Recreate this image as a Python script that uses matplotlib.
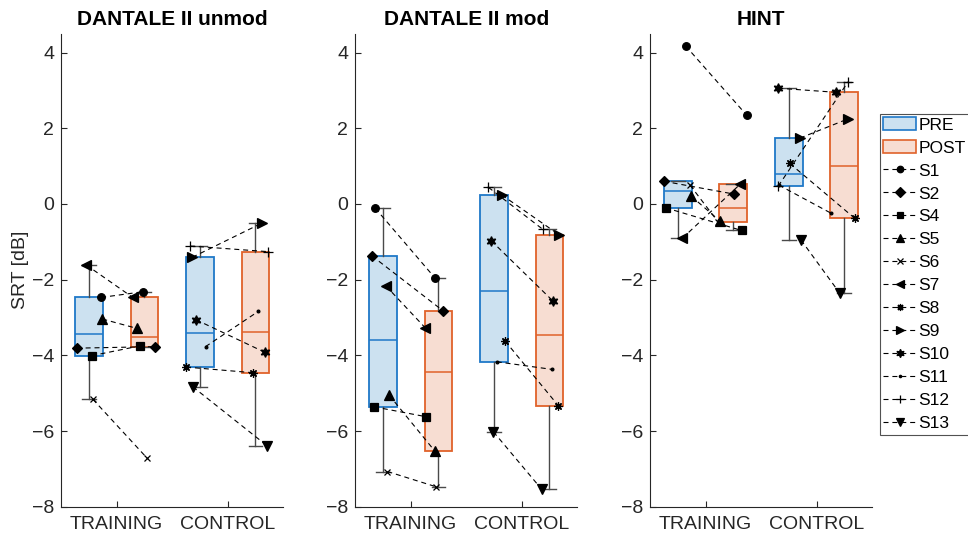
import numpy as np
import matplotlib
matplotlib.use("Agg")
import matplotlib.pyplot as plt
from matplotlib.patches import Patch
from matplotlib.lines import Line2D

plt.rcParams['font.family'] = ['Liberation Sans', 'DejaVu Sans']

# ---- data: speech reception thresholds (dB) ----
tests = ['DANTALE II unmod', 'DANTALE II mod', 'HINT']
groups = ['TRAINING', 'CONTROL']
subjects_training = ['S1', 'S2', 'S4', 'S5', 'S6', 'S7']
subjects_control = ['S8', 'S9', 'S10', 'S11', 'S12', 'S13']

unmod_training_pre = [-2.47, -3.81, -4.01, -3.04, -5.16, -1.61]
unmod_training_post = [-2.32, -3.77, -3.75, -3.29, -6.72, -2.47]
unmod_control_pre = [-4.31, -1.41, -3.06, -3.77, -1.11, -4.83]
unmod_control_post = [-4.46, -0.51, -3.92, -2.84, -1.26, -6.39]

mod_training_pre = [-0.11, -1.37, -5.36, -5.05, -7.07, -2.16]
mod_training_post = [-1.96, -2.82, -5.62, -6.54, -7.47, -3.27]
mod_control_pre = [-3.62, 0.24, -0.97, -4.17, 0.44, -6.02]
mod_control_post = [-5.33, -0.82, -2.56, -4.37, -0.67, -7.54]

hint_training_pre = [4.18, 0.60, -0.10, 0.21, 0.50, -0.91]
hint_training_post = [2.35, 0.26, -0.70, -0.45, -0.48, 0.53]
hint_control_pre = [1.07, 1.74, 3.06, 0.50, 0.47, -0.95]
hint_control_post = [-0.38, 2.25, 2.95, -0.25, 3.23, -2.36]

# horizontal scatter of the individual points around each box
unmod_training_jitter_pre = [0.22, -0.22, 0.05, 0.24, 0.07, -0.05]
unmod_training_jitter_post = [-0.03, 0.19, -0.08, -0.13, 0.05, -0.21]
unmod_control_jitter_pre = [-0.25, -0.14, -0.07, 0.10, -0.18, -0.13]
unmod_control_jitter_post = [-0.04, 0.11, 0.17, 0.05, 0.23, 0.21]

mod_training_jitter_pre = [-0.14, -0.20, -0.16, 0.11, 0.08, 0.05]
mod_training_jitter_post = [-0.06, 0.08, -0.23, -0.06, -0.05, -0.24]
mod_control_jitter_pre = [0.20, 0.14, -0.05, 0.05, -0.10, -0.01]
mod_control_jitter_post = [0.16, 0.18, 0.06, 0.04, -0.12, -0.14]

hint_training_jitter_pre = [0.14, -0.25, -0.22, 0.24, 0.22, 0.08]
hint_training_jitter_post = [0.24, 0.02, 0.15, -0.24, -0.27, 0.13]
hint_control_jitter_pre = [0.02, 0.20, -0.19, -0.18, -0.19, 0.22]
hint_control_jitter_post = [0.19, 0.07, -0.14, -0.23, 0.07, -0.08]

panels = [
    dict(tr=(unmod_training_pre, unmod_training_post), co=(unmod_control_pre, unmod_control_post),
         jtr=(unmod_training_jitter_pre, unmod_training_jitter_post),
         jco=(unmod_control_jitter_pre, unmod_control_jitter_post)),
    dict(tr=(mod_training_pre, mod_training_post), co=(mod_control_pre, mod_control_post),
         jtr=(mod_training_jitter_pre, mod_training_jitter_post),
         jco=(mod_control_jitter_pre, mod_control_jitter_post)),
    dict(tr=(hint_training_pre, hint_training_post), co=(hint_control_pre, hint_control_post),
         jtr=(hint_training_jitter_pre, hint_training_jitter_post),
         jco=(hint_control_jitter_pre, hint_control_jitter_post)),
]

# ---- styles ----
markers = {
    'S1': 'o', 'S2': 'D', 'S4': 's', 'S5': '^', 'S6': 'x', 'S7': '<',
    'S8': (8, 2, 0), 'S9': '>', 'S10': (6, 1, 0), 'S11': '.', 'S12': '+', 'S13': 'v',
}
msizes = {'S1': 5.5, 'S2': 5.5, 'S4': 5.5, 'S5': 6.5, 'S6': 5, 'S7': 6.5,
          'S8': 6, 'S9': 6.5, 'S10': 7, 'S11': 4, 'S12': 7, 'S13': 6.5}

pre_face, pre_edge = '#cce1f0', '#1f78c8'
post_face, post_edge = '#f7ddd2', '#e0622a'
whisker_col = '#4a4a4a'
axis_col = '#262626'
dash = (0, (4.5, 3.5))


def box_stats(values):
    v = np.asarray(values, dtype=float)
    q1, med, q3 = np.percentile(v, [25, 50, 75], method='hazen')
    iqr = q3 - q1
    lo = v[v >= q1 - 1.5 * iqr].min()
    hi = v[v <= q3 + 1.5 * iqr].max()
    return dict(med=med, q1=q1, q3=q3, whislo=lo, whishi=hi, fliers=[])


fig = plt.figure(figsize=(9.68, 5.39), dpi=100)
W, H = 968.0, 539.0
lefts = [61.2, 355.2, 650.0]
ax_w, ax_top, ax_bot = 222.0, 33.7, 506.7

for k, (name, p) in enumerate(zip(tests, panels)):
    ax = fig.add_axes([lefts[k] / W, (H - ax_bot) / H, ax_w / W, (ax_bot - ax_top) / H])

    pos = {'tr': (1, 2), 'co': (3, 4)}
    for g in ('tr', 'co'):
        pre, post = p[g]
        for vals, x, fc, ec in ((pre, pos[g][0], pre_face, pre_edge),
                                (post, pos[g][1], post_face, post_edge)):
            ax.bxp([box_stats(vals)], positions=[x], widths=0.5, capwidths=0.25,
                   patch_artist=True, showfliers=False, manage_ticks=False,
                   boxprops=dict(facecolor=fc, edgecolor=ec, linewidth=1.3),
                   medianprops=dict(color=ec, linewidth=1.1),
                   whiskerprops=dict(color=whisker_col, linewidth=1.0),
                   capprops=dict(color=whisker_col, linewidth=1.0))

    for g, subs, jit in (('tr', subjects_training, p['jtr']), ('co', subjects_control, p['jco'])):
        pre, post = p[g]
        jpre, jpost = jit
        for i, s in enumerate(subs):
            xs = [pos[g][0] + jpre[i], pos[g][1] + jpost[i]]
            ys = [pre[i], post[i]]
            ax.plot(xs, ys, color='black', linestyle=dash, linewidth=0.8,
                    marker=markers[s], markersize=msizes[s], markerfacecolor='black',
                    markeredgecolor='black', markeredgewidth=0.9, zorder=5)

    ax.set_xlim(0.5, 4.5)
    ax.set_ylim(-8, 4.5)
    ax.set_yticks(np.arange(-8, 5, 2))
    ax.set_xticks([1.5, 3.5])
    ax.set_xticklabels(groups)
    ax.spines['top'].set_visible(False)
    ax.spines['right'].set_visible(False)
    for sp in ('left', 'bottom'):
        ax.spines[sp].set_color(axis_col)
        ax.spines[sp].set_linewidth(0.8)
    ax.tick_params(direction='in', length=4, width=0.8, color=axis_col,
                   labelcolor=axis_col, labelsize=14)
    ax.tick_params(axis='y', pad=5)
    ax.tick_params(axis='x', pad=7)
    ax.set_title(name, fontsize=15, fontweight='bold', pad=6)
    if k == 0:
        ax.set_ylabel('SRT [dB]', fontsize=14, color=axis_col, labelpad=2)

handles = [Patch(facecolor=pre_face, edgecolor=pre_edge, linewidth=1.2, label='PRE'),
           Patch(facecolor=post_face, edgecolor=post_edge, linewidth=1.2, label='POST')]
for s in subjects_training + subjects_control:
    handles.append(Line2D([], [], color='black', linestyle=dash, linewidth=0.8,
                          marker=markers[s], markersize=msizes[s] * 0.85,
                          markerfacecolor='black', markeredgecolor='black',
                          markeredgewidth=0.9, label=s))

leg = fig.legend(handles=handles, loc='upper left', bbox_to_anchor=(880 / W, 1 - 114 / H),
                 fontsize=12.5, frameon=True, fancybox=False, edgecolor=axis_col,
                 handlelength=1.9, handletextpad=0.12, labelspacing=0.45,
                 borderpad=0.2, borderaxespad=0, numpoints=1)
leg.get_frame().set_linewidth(0.8)

fig.savefig('out.png', dpi=100)
